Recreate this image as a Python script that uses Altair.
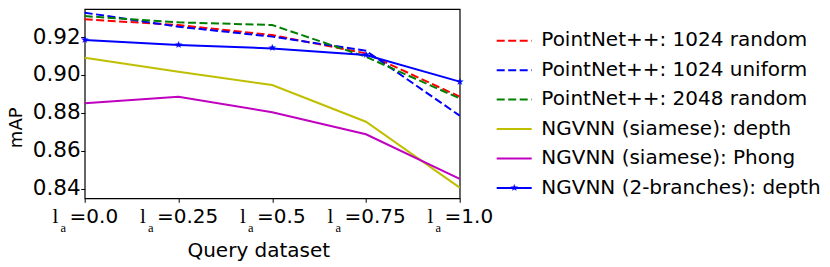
import altair as alt
import pandas as pd

# ---------------- data ----------------
queries = [0.0, 0.25, 0.5, 0.75, 1.0]
label_rest = ["=0.0", "=0.25", "=0.5", "=0.75", "=1.0"]
y_ticks = [0.84, 0.86, 0.88, 0.90, 0.92]

series_names = [
    "PointNet++: 1024 random",
    "PointNet++: 1024 uniform",
    "PointNet++: 2048 random",
    "NGVNN (siamese): depth",
    "NGVNN (siamese): Phong",
    "NGVNN (2-branches): depth",
]
pn_1024_random = [0.9293, 0.9263, 0.9210, 0.9114, 0.8886]
pn_1024_uniform = [0.9328, 0.9254, 0.9202, 0.9128, 0.8786]
pn_2048_random = [0.9310, 0.9277, 0.9263, 0.9096, 0.8877]
ngvnn_siam_depth = [0.9091, 0.9017, 0.8947, 0.8754, 0.8407]
ngvnn_siam_phong = [0.8851, 0.8886, 0.8804, 0.8688, 0.8453]
ngvnn_2b_depth = [0.9184, 0.9158, 0.9140, 0.9105, 0.8965]

colors = ["#ff0000", "#0000ff", "#008000", "#bfbf00", "#bf00bf", "#0000ff"]
dashed = [True, True, True, False, False, False]

all_vals = [pn_1024_random, pn_1024_uniform, pn_2048_random,
            ngvnn_siam_depth, ngvnn_siam_phong, ngvnn_2b_depth]

# ---------------- layout ----------------
PLOT_W = 375
PLOT_H = 189.3
Y_DOMAIN = [0.835105, 0.934737]
PX_PER_UNIT = PLOT_H / (Y_DOMAIN[1] - Y_DOMAIN[0])
FONT = "DejaVu Sans"
TICK_FS = 20
DASH = [8, 3.5]
STAR = "\u2605"

x_scale = alt.Scale(domain=[0, 1], nice=False, zero=False)
y_scale = alt.Scale(domain=Y_DOMAIN, nice=False, zero=False)
x_axis = alt.Axis(
    values=queries, labels=False, tickSize=4, tickColor="black", tickWidth=1,
    domain=False, grid=False, title="Query dataset", titleFont=FONT,
    titleFontSize=20, titleFontWeight="normal", titleColor="black",
    titleX=173.6, titleY=58.0, titleAlign="center", titleBaseline="alphabetic",
)
y_axis = alt.Axis(
    values=y_ticks, format=".2f", labelFont=FONT, labelFontSize=21.5,
    labelColor="black", labelPadding=0.5, tickSize=4, tickColor="black",
    tickWidth=1, domain=False, grid=False, title="mAP", titleFont=FONT,
    titleFontSize=18, titleFontWeight="normal", titleColor="black",
    titleX=-63.3, titleY=118.3, titleAlign="center",
    titleBaseline="alphabetic", titleAngle=270,
)


def X(field):
    return alt.X(field, type="quantitative", scale=x_scale, axis=x_axis)


def Y(field):
    return alt.Y(field, type="quantitative", scale=y_scale, axis=y_axis)


layers = []

# data lines, one layer per series
for name, vals, col, is_dash in zip(series_names, all_vals, colors, dashed):
    sdf = pd.DataFrame({"q": queries, "mAP": vals})
    if is_dash:
        mk = alt.Chart(sdf).mark_line(color=col, strokeWidth=2, strokeDash=DASH)
    else:
        mk = alt.Chart(sdf).mark_line(color=col, strokeWidth=2)
    layers.append(mk.encode(x=X("q"), y=Y("mAP")))

# star markers on the 2-branches series
star_df = pd.DataFrame({"q": queries, "mAP": ngvnn_2b_depth})
layers.append(
    alt.Chart(star_df).mark_text(
        text=STAR, font=FONT, fontSize=10, color="#0000ff",
        align="center", baseline="middle"
    ).encode(x=X("q"), y=Y("mAP"))
)

# legend (drawn manually)
leg_df = pd.DataFrame({
    "series": series_names,
    "row": list(range(len(series_names))),
    "dashed": dashed,
})
leg_base = alt.Chart(leg_df).transform_calculate(
    ly=f"{Y_DOMAIN[1]} - (31.7 + datum.row * 29.45) / {PX_PER_UNIT}"
)
color_enc = alt.Color("series:N", scale=alt.Scale(domain=series_names, range=colors), legend=None)
layers.append(
    leg_base.transform_filter("datum.dashed").mark_rule(strokeWidth=2, strokeDash=DASH).encode(
        x=alt.value(412), x2=alt.value(447), y=Y("ly"), color=color_enc)
)
layers.append(
    leg_base.transform_filter("!datum.dashed").mark_rule(strokeWidth=2).encode(
        x=alt.value(412), x2=alt.value(447), y=Y("ly"), color=color_enc)
)
layers.append(
    leg_base.transform_filter(f"datum.row == {len(series_names) - 1}").mark_text(
        text=STAR, font=FONT, fontSize=10, color="#0000ff",
        align="center", baseline="middle"
    ).encode(x=alt.value(429.5), y=Y("ly"))
)
layers.append(
    leg_base.mark_text(
        font=FONT, fontSize=20, align="left", baseline="alphabetic",
        color="black", dy=5.8
    ).encode(x=alt.value(456.6), y=Y("ly"), text="series:N")
)

# custom tick labels: serif "l", subscript "a", sans "=value"
lab_df = pd.DataFrame({"q": queries, "rest": label_rest,
                       "nchar": [len(s) for s in label_rest]})
lab_base = alt.Chart(lab_df).transform_calculate(
    xs=f"datum.q - (19 + (0.838 + 0.318 + (datum.nchar - 2) * 0.636) * {TICK_FS} - 3.3) / 2 / {PLOT_W}"
)
layers.append(lab_base.mark_text(
    text="l", font="Liberation Serif", fontSize=21, align="left",
    baseline="alphabetic", color="black"
).encode(x=X("xs"), y=alt.value(214.3)))
layers.append(lab_base.mark_text(
    text="a", font="Liberation Serif", fontSize=12.5, align="left",
    baseline="alphabetic", color="black", dx=8
).encode(x=X("xs"), y=alt.value(223.3)))
layers.append(lab_base.mark_text(
    font=FONT, fontSize=TICK_FS, align="left", baseline="alphabetic",
    color="black", dx=17
).encode(x=X("xs"), y=alt.value(214.3), text="rest:N"))

chart = alt.layer(*layers).properties(
    width=PLOT_W, height=PLOT_H,
    autosize=alt.AutoSizeParams(type="none"),
    padding={"left": 76.7, "top": 1, "right": 360, "bottom": 66},
    background="white",
).configure_view(stroke="black", strokeWidth=1.2)

chart.save("out.html", embed_options={"renderer": "svg", "actions": False})
